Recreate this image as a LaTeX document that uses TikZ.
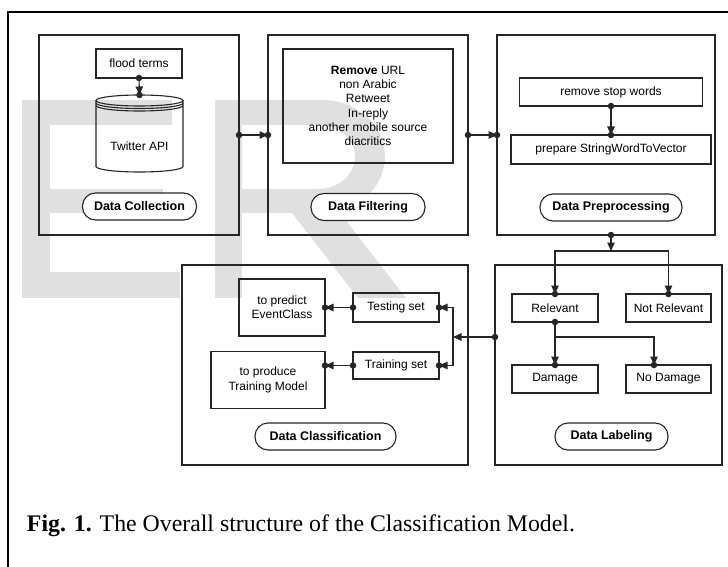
\documentclass[tikz,border=0pt]{standalone}
\usepackage{fontspec}
\setmainfont{Liberation Sans}
\newfontfamily\capfont{Liberation Serif}
\usetikzlibrary{arrows.meta,calc}

\begin{document}
\begin{tikzpicture}[x=1pt,y=-1pt,
  every node/.style={inner sep=0pt, outer sep=0pt, font=\fontsize{12}{14.3}\selectfont},
  stage/.style={draw=black!85, line width=1.2pt, minimum height=200pt},
  item/.style={draw=black!85, line width=1.1pt, align=center},
  tag/.style={draw=black!85, line width=1.1pt, fill=white, rounded corners=13pt,
    minimum height=27pt, font=\fontsize{12.5}{14}\selectfont\bfseries},
  conn/.style={line width=1.1pt, draw=black!85, -{Triangle[length=8.5pt,width=7.5pt]}},
  dot/.style={circle, fill=black!85, minimum size=6.5pt, inner sep=0pt},
  wm/.style={fill=black!12}
]
\useasboundingbox (0,0) rectangle (728,567);

% light grey "ER" lettering in the background
\fill[wm] (22,100) rectangle (50,298);
\fill[wm] (50,100) rectangle (172,125);
\fill[wm] (50,189) rectangle (163,213);
\fill[wm] (50,272) rectangle (180,298);
\fill[wm] (215,100) rectangle (242,298);
\fill[wm,even odd rule]
  (242,100) -- (322,100) arc[start angle=-90,end angle=90,x radius=63,y radius=56.5] -- (242,213) -- cycle
  (242,125) -- (318,125) arc[start angle=-90,end angle=90,x radius=37,y radius=32] -- (242,189) -- cycle;
\fill[wm] (292,213) -- (340,213) -- (406,298) -- (358,298) -- cycle;

% outer frame
\draw[line width=2pt] (8,567) -- (8,12) -- (728,12);

% stage boxes
\node[stage, minimum width=200pt] (coll) at (139,135) {};
\node[stage, minimum width=200pt] (filt) at (368,135) {};
\node[stage, minimum width=218pt] (prep) at (606,135) {};
\node[stage, minimum width=286pt] (clas) at (325,365) {};
\node[stage, minimum width=227pt] (labl) at (608.5,365) {};

% data collection
\node[item, minimum width=86pt, minimum height=29pt] (flood) at (139,63.5) {flood terms};
\node[minimum width=87pt, minimum height=77pt] (api) at (139.5,133.5) {};
\node at (139.5,146) {Twitter API};
\begin{scope}[draw=black!85, line width=1.1pt]
  \draw (139.5,100.5) ellipse[x radius=43.5, y radius=5.5];
  \draw (96,103) arc[start angle=180,end angle=0,x radius=43.5,y radius=5.5];
  \draw (96,105.5) arc[start angle=180,end angle=0,x radius=43.5,y radius=5.5];
  \draw (96,100.5) -- (96,166.5) arc[start angle=180,end angle=0,x radius=43.5,y radius=5.5] -- (183,100.5);
\end{scope}
\node[tag, minimum width=114pt] (lcoll) at (139.5,206.5) {Data Collection};

% data filtering
\node[item, minimum width=170pt, minimum height=114pt] (rem) at (368,106)
  {\textbf{Remove} URL\\non Arabic\\Retweet\\In-reply\\another mobile source\\diacritics};
\node[tag, minimum width=114pt] (lfilt) at (368,207) {Data Filtering};

% data preprocessing
\node[item, minimum width=183pt, minimum height=28pt] (rsw) at (611,92) {remove stop words};
\node[item, minimum width=200pt, minimum height=29pt] (psv) at (611,149.5) {prepare StringWordToVector};
\node[tag, minimum width=142pt] (lprep) at (611,207.5) {Data Preprocessing};

% data labeling
\node[item, minimum width=86pt, minimum height=28pt] (rel) at (555,308) {Relevant};
\node[item, minimum width=85pt, minimum height=28pt] (nrel) at (668.5,308) {Not Relevant};
\node[item, minimum width=86pt, minimum height=28pt] (dmg) at (555,379) {Damage};
\node[item, minimum width=85pt, minimum height=28pt] (ndmg) at (668.5,379) {No Damage};
\node[tag, minimum width=113pt] (llab) at (611.5,436.5) {Data Labeling};

% data classification
\node[item, minimum width=86pt, minimum height=29pt] (test) at (396,307.5) {Testing set};
\node[item, minimum width=86pt, minimum height=27pt] (train) at (396,365.5) {Training set};
\node[item, minimum width=86pt, minimum height=57pt] (pred) at (282,307.5) {to predict\\EventClass};
\node[item, minimum width=114pt, minimum height=57pt] (prod) at (268,380) {to produce\\Training Model};
\node[tag, minimum width=141pt] (lclas) at (325.5,436.5) {Data Classification};

% junction points
\coordinate (split) at (611,251);
\coordinate (rsplit) at (555,337);
\coordinate (bus) at (453,337);
\coordinate (ndin) at ([xshift=-14.5pt]ndmg.north);

% connectors
\draw[conn] (flood.south) node[dot]{} -- (api.north) node[dot]{};
\draw[conn] (coll.east) node[dot]{} -- (filt.west) node[dot]{};
\draw[conn] (filt.east) node[dot]{} -- (prep.west) node[dot]{};
\draw[conn] (rsw.south) node[dot]{} -- (psv.north) node[dot]{};
\draw[conn] (rsw |- prep.south) node[dot]{} -- (split);
\draw[conn] (split) -| (rel.north) node[dot]{};
\draw[conn] (split) -| (nrel.north) node[dot]{};
\draw[conn] (rel.south) node[dot]{} -- (dmg.north) node[dot]{};
\draw[conn] (rsplit) -| (ndin) node[dot]{};
\draw[conn] (labl.west |- rsplit) node[dot]{} -- (bus);
\draw[conn] (bus) |- (test.east) node[dot]{};
\draw[conn] (bus) |- (train.east) node[dot]{};
\draw[conn] (test.west) node[dot]{} -- (pred.east) node[dot]{};
\draw[conn] (train.west) node[dot]{} -- (prod.east |- train.west) node[dot]{};

% caption
\node[anchor=base west, font=\capfont\fontsize{23.8}{28}\selectfont] (cap) at (27,531)
  {\textbf{Fig. 1.} The Overall structure of the Classification Model.};
\end{tikzpicture}
\end{document}
